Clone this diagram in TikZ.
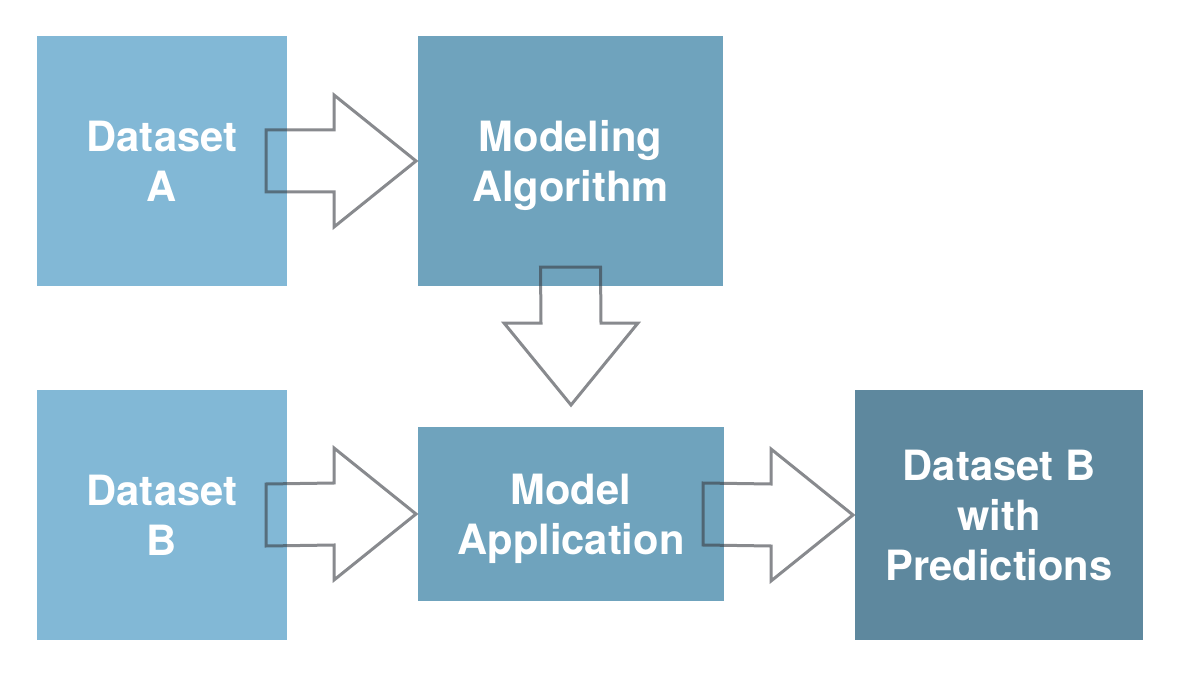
\documentclass[tikz,border=0pt]{standalone}
\usepackage{fontspec}
\setmainfont{TeX Gyre Heros}
\usetikzlibrary{calc}
\definecolor{lightbox}{RGB}{130,184,214}
\definecolor{midbox}{RGB}{111,163,189}
\definecolor{darkbox}{RGB}{94,136,158}
\definecolor{arrowgray}{RGB}{58,61,67}
\tikzset{
  box/.style={draw=none, inner sep=0pt, outer sep=0pt, align=center, text depth=0pt,
    text=white, font=\fontsize{41.7bp}{50bp}\selectfont\bfseries},
  blockarrow/.style={draw=arrowgray, draw opacity=0.6, line width=3bp, fill=none, line join=miter}
}
\begin{document}
\begin{tikzpicture}[x=1bp,y=-1bp]
\useasboundingbox (0,0) rectangle (1188,684);
\fill[white] (0,0) rectangle (1188,684);
% boxes
\node[box, fill=lightbox, minimum width=250bp, minimum height=250bp] (dsA) at (162,161) {Dataset\\A};
\node[box, fill=midbox, minimum width=305bp, minimum height=250bp] (alg) at (570.5,161) {Modeling\\Algorithm};
\node[box, fill=lightbox, minimum width=250bp, minimum height=250bp] (dsB) at (162,515) {Dataset\\B};
\node[box, fill=midbox, minimum width=306bp, minimum height=174bp] (app) at (571,514) {Model\\Application};
\node[box, fill=darkbox, minimum width=288bp, minimum height=250bp] (pred) at (999,515) {Dataset B\\with\\Predictions};
% arrow anchor coordinates
\coordinate (a1s) at ($(dsA.east)+(-21,0)$);
\coordinate (a1t) at ($(alg.west)+(-2,0)$);
\coordinate (a2s) at ($(alg.south)+(0,-19)$);
\coordinate (a2t) at ($(app.north)+(0,-22)$);
\coordinate (a3s) at ($(dsB.east)+(-21,0)$);
\coordinate (a3t) at ($(app.west)+(-2,0)$);
\coordinate (a4s) at ($(app.east)+(-21,0)$);
\coordinate (a4t) at ($(pred.west)+(-2,0)$);
% right arrows
\foreach \s/\t in {a1s/a1t, a3s/a3t, a4s/a4t}{
  \draw[blockarrow] ($(\s)+(0,-31)$) -- ($(\t)+(-82,-31)$) -- ($(\t)+(-82,-66)$) -- (\t)
    -- ($(\t)+(-82,66)$) -- ($(\t)+(-82,31)$) -- ($(\s)+(0,31)$) -- cycle;
}
% down arrow
\draw[blockarrow] ($(a2s)+(-30,0)$) -- ($(a2t)+(-30,-82)$) -- ($(a2t)+(-67,-82)$) -- (a2t)
  -- ($(a2t)+(67,-82)$) -- ($(a2t)+(30,-82)$) -- ($(a2s)+(30,0)$) -- cycle;
\end{tikzpicture}
\end{document}
